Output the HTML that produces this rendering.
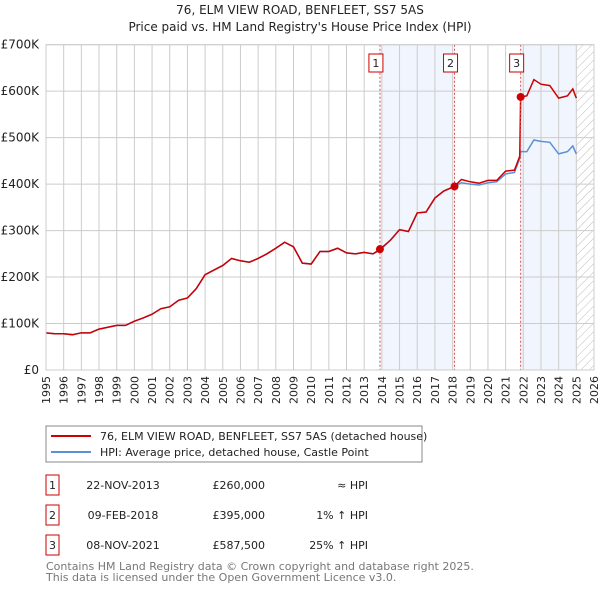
<!DOCTYPE html>
<html><head><meta charset="utf-8"><style>
body{margin:0;background:#fff;font-family:"Liberation Sans","DejaVu Sans",sans-serif;}
svg text{font-family:"DejaVu Sans","Liberation Sans",sans-serif;}
</style></head><body>
<svg id="c" width="600" height="590" xmlns="http://www.w3.org/2000/svg">
<text x="300" y="14" text-anchor="middle" font-size="12" fill="#222">76, ELM VIEW ROAD, BENFLEET, SS7 5AS</text>
<text x="300" y="31" text-anchor="middle" font-size="12" fill="#222">Price paid vs. HM Land Registry's House Price Index (HPI)</text>
<defs><pattern id="hatch" width="6" height="6" patternUnits="userSpaceOnUse" patternTransform="rotate(45)"><line x1="0" y1="0" x2="0" y2="6" stroke="#bbb" stroke-width="1"/></pattern></defs>
<g id="grid"></g><g id="marks"></g>
<rect x="46" y="426" width="376" height="36" fill="#fff" stroke="#888"/>
<line x1="51" y1="436" x2="91" y2="436" stroke="#cc0000" stroke-width="2"/>
<text x="100" y="440" font-size="11" fill="#222">76, ELM VIEW ROAD, BENFLEET, SS7 5AS (detached house)</text>
<line x1="51" y1="452" x2="91" y2="452" stroke="#5b8fd6" stroke-width="2"/>
<text x="100" y="456" font-size="11" fill="#222">HPI: Average price, detached house, Castle Point</text>
<g id="table"></g>
<text x="46" y="570" font-size="11" fill="#777">Contains HM Land Registry data © Crown copyright and database right 2025.</text>
<text x="46" y="581" font-size="11" fill="#777">This data is licensed under the Open Government Licence v3.0.</text>
</svg>
<script>
const years=[1995,1995.5,1996,1996.5,1997,1997.5,1998,1998.5,1999,1999.5,2000,2000.5,2001,2001.5,2002,2002.5,2003,2003.5,2004,2004.5,2005,2005.5,2006,2006.5,2007,2007.5,2008,2008.5,2009,2009.5,2010,2010.5,2011,2011.5,2012,2012.5,2013,2013.5,2013.9,2014.5,2015,2015.5,2016,2016.5,2017,2017.5,2018.1,2018.5,2019,2019.5,2020,2020.5,2021,2021.5,2021.8,2021.85,2022.2,2022.6,2023,2023.5,2024,2024.5,2024.8,2025];
const hpi=[80,78,78,76,80,80,88,92,96,96,105,112,120,132,136,150,155,175,205,215,225,240,235,232,240,250,262,275,265,230,228,255,255,262,252,250,253,250,258,280,302,298,338,340,370,385,395,403,400,398,403,405,422,425,455,470,470,495,492,490,465,470,482,465];
const price=[80,78,78,76,80,80,88,92,96,96,105,112,120,132,136,150,155,175,205,215,225,240,235,232,240,250,262,275,265,230,228,255,255,262,252,250,253,250,260,280,302,298,338,340,370,385,395,410,405,402,408,408,428,430,460,587.5,590,625,615,612,585,590,605,585];
const saleLabels=["1","2","3"];
const saleYears=[2013.89,2018.11,2021.85];
const saleValues=[260,395,587.5];
const saleDates=["22-NOV-2013","09-FEB-2018","08-NOV-2021"];
const salePrices=["£260,000","£395,000","£587,500"];
const saleHpi=["≈ HPI","1% ↑ HPI","25% ↑ HPI"];
const yTicks=[0,100,200,300,400,500,600,700];
const yTickLabels=["£0","£100K","£200K","£300K","£400K","£500K","£600K","£700K"];
const xTicks=[1995,1996,1997,1998,1999,2000,2001,2002,2003,2004,2005,2006,2007,2008,2009,2010,2011,2012,2013,2014,2015,2016,2017,2018,2019,2020,2021,2022,2023,2024,2025,2026];
const L=46,R=594,T=44.7,B=370;
const X=v=>L+(v-1995)/(2026-1995)*(R-L);
const Y=v=>B-v/700*(B-T);
const NS="http://www.w3.org/2000/svg";
function mk(p,t,a){const e=document.createElementNS(NS,t);for(const k in a)e.setAttribute(k,a[k]);p.appendChild(e);return e;}
const g=document.getElementById('grid'),m=document.getElementById('marks'),tb=document.getElementById('table');
for(const [a,b] of [[saleYears[0],saleYears[1]],[saleYears[2],2025]]){
 const r=mk(g,'rect',{x:X(a),y:T,width:X(b)-X(a),height:B-T,fill:'#eef3fc',opacity:0.8});
 
 
}
const h=mk(g,'rect',{x:X(2025),y:T,width:R-X(2025),height:B-T,fill:'url(#hatch)'});


xTicks.forEach(t=>{
 const l=mk(g,'line',{x1:X(t),x2:X(t),y1:T,y2:B,stroke:'#ccc','stroke-width':1});
 
 
 const tx=mk(g,'text',{x:0,y:0,'font-size':11,fill:'#222','text-anchor':'end',transform:`translate(${X(t)+4},${B+6}) rotate(-90)`});
 tx.textContent=t;
 
 
});
yTicks.forEach((t,i)=>{
 const l=mk(g,'line',{x1:L,x2:R,y1:Y(t),y2:Y(t),stroke:'#ccc','stroke-width':1});
 
 
 const tx=mk(g,'text',{x:L-7,y:Y(t)+4,'font-size':12,fill:'#222','text-anchor':'end'});
 tx.textContent=yTickLabels[i];
 
 
});
const hp=mk(m,'polyline',{points:years.map((y,i)=>X(y)+','+Y(hpi[i])).join(' '),fill:'none',stroke:'#5b8fd6','stroke-width':1.5});


const pp=mk(m,'polyline',{points:years.map((y,i)=>X(y)+','+Y(price[i])).join(' '),fill:'none',stroke:'#cc0000','stroke-width':1.5});


saleYears.forEach((s,i)=>{
 const l=mk(m,'line',{x1:X(s),x2:X(s),y1:T,y2:B,stroke:'#e05050','stroke-width':1,'stroke-dasharray':'2,2'});
 
 
 const c=mk(m,'circle',{cx:X(s),cy:Y(saleValues[i]),r:4,fill:'#cc0000'});
 
 
 const bx=mk(m,'rect',{x:X(s)-11,y:54,width:14,height:18,fill:'#fff',stroke:'#cc0000'});
 
 
 const bt=mk(m,'text',{x:X(s)-4,y:67,'font-size':11,'text-anchor':'middle',fill:'#222'});
 bt.textContent=saleLabels[i];
 
 
 const ry=475+i*30;
 const rb=mk(tb,'rect',{x:46,y:ry,width:13,height:20,fill:'#fff',stroke:'#cc0000'});
 
 
 const cells=[[52.5,saleLabels[i],'middle'],[123,saleDates[i],'middle'],[265,salePrices[i],'end'],[368,saleHpi[i],'end']];
 cells.forEach(([x,t,a])=>{
  const e=mk(tb,'text',{x:x,y:ry+14,'font-size':11,fill:'#222','text-anchor':a});
  e.textContent=t;
  
  
 });
});
const ax=mk(m,'rect',{x:L,y:T,width:R-L,height:B-T,fill:'none',stroke:'#ccc'});


</script>
</body></html>
